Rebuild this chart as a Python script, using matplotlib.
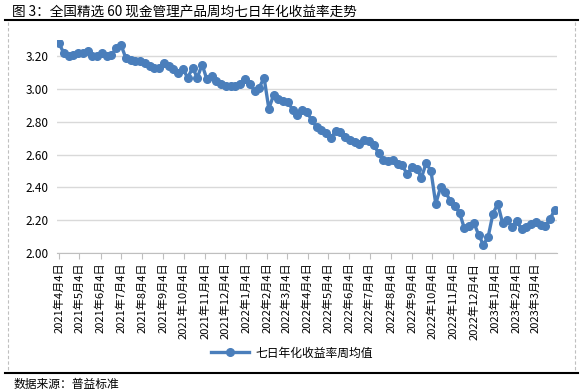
import numpy as np
import pandas as pd
import matplotlib
matplotlib.use('Agg')
import matplotlib.pyplot as plt
from matplotlib.lines import Line2D

plt.rcParams['font.family'] = ['Noto Sans CJK SC', 'DejaVu Sans']

# weekly averages of the 7-day annualised yield, starting 2021-04-04
start_date = '2021-04-04'
yields = [
    3.28, 3.22, 3.20, 3.21, 3.22, 3.22, 3.23, 3.20, 3.20, 3.22,
    3.20, 3.21, 3.25, 3.27, 3.19, 3.18, 3.17, 3.17, 3.16, 3.14,
    3.13, 3.13, 3.16, 3.14, 3.12, 3.10, 3.12, 3.07, 3.13, 3.07,
    3.15, 3.06, 3.08, 3.05, 3.03, 3.02, 3.02, 3.02, 3.03, 3.06,
    3.03, 2.99, 3.01, 3.07, 2.88, 2.965, 2.94, 2.925, 2.92, 2.875,
    2.84, 2.875, 2.86, 2.81, 2.77, 2.75, 2.735, 2.70, 2.745, 2.74,
    2.705, 2.69, 2.68, 2.665, 2.69, 2.685, 2.66, 2.61, 2.57, 2.56,
    2.565, 2.545, 2.535, 2.48, 2.525, 2.515, 2.46, 2.55, 2.50, 2.30,
    2.40, 2.375, 2.32, 2.285, 2.245, 2.15, 2.165, 2.185, 2.11, 2.05,
    2.10, 2.24, 2.30, 2.185, 2.20, 2.16, 2.195, 2.145, 2.16, 2.175,
    2.19, 2.17, 2.165, 2.21, 2.265,
]
dates = pd.date_range(start_date, periods=len(yields), freq='7D')

# monthly tick labels on the 4th
tick_dates = pd.date_range('2021-04-01', '2023-03-01', freq='MS') + pd.Timedelta(days=3)
tick_labels = [f'{d.year}年{d.month}月{d.day}日' for d in tick_dates]
y_ticks = [2.00, 2.20, 2.40, 2.60, 2.80, 3.00, 3.20]

title = '图 3：全国精选 60 现金管理产品周均七日年化收益率走势'
series_name = '七日年化收益率周均值'
source = '数据来源：普益标准'

W, H = 584, 392
fig = plt.figure(figsize=(W / 100, H / 100), dpi=100)
ax = fig.add_axes([57 / W, 1 - 253 / H, 500 / W, 213 / H])

blue = '#4a7ebb'
ax.plot(dates, yields, color=blue, lw=2.4, marker='o', markersize=5.5,
        markeredgecolor=blue, markerfacecolor=blue, label=series_name, zorder=3)

ax.set_ylim(2.0, 3.3)
ax.set_xlim(dates[0] - pd.Timedelta(days=3), dates[-1] + pd.Timedelta(days=3))
ax.set_yticks(y_ticks)
ax.set_yticklabels([f'{v:.2f}' for v in y_ticks], fontsize=8.5)
ax.set_xticks(tick_dates)
ax.set_xticklabels(tick_labels, rotation=90, fontsize=8, va='top')

ax.grid(axis='y', color='#d9d9d9', lw=1)
ax.set_axisbelow(True)
for s in ['top', 'right', 'left']:
    ax.spines[s].set_visible(False)
ax.spines['bottom'].set_color('#bfbfbf')
ax.tick_params(axis='y', length=0, pad=6)
ax.tick_params(axis='x', length=4, color='#bfbfbf', pad=3)

# legend below the plot
fig.legend(handles=[Line2D([0], [0], color=blue, lw=2.4, marker='o', markersize=5.5)],
           labels=[series_name], loc='center', bbox_to_anchor=(0.5, 1 - 353 / H),
           frameon=False, fontsize=8.5, handlelength=3.2, handletextpad=0.6)

# report frame: title, rules, dashed border, source
fig.text(12 / W, 1 - 12 / H, title, fontsize=9.8, va='center', ha='left')
fig.add_artist(Line2D([5 / W, 578 / W], [1 - 20 / H] * 2, color='black', lw=1.5))
fig.add_artist(Line2D([5 / W, 578 / W], [1 - 373 / H] * 2, color='black', lw=1.5))
fig.add_artist(Line2D([8 / W, 8 / W], [1 - 22 / H, 1 - 371 / H], color='#bfbfbf', lw=0.8, ls=(0, (3, 2))))
fig.add_artist(Line2D([575 / W, 575 / W], [1 - 22 / H, 1 - 371 / H], color='#bfbfbf', lw=0.8, ls=(0, (3, 2))))
fig.text(14 / W, 1 - 384 / H, source, fontsize=8.5, va='center', ha='left')

fig.savefig('out.png', dpi=100)
